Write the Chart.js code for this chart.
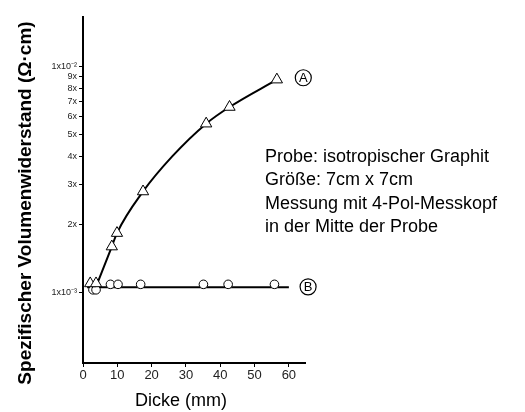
<!DOCTYPE html>
<html>
<head>
<meta charset="utf-8">
<script src="https://cdn.jsdelivr.net/npm/chart.js@4"></script>
<style>
  body { margin: 0; background: #fff; }
</style>
</head>
<body>
<canvas id="chart" width="525" height="412"></canvas>
<script>
// Probe A (triangles) and B (circles): Dicke in mm, Widerstand in Ohm*cm
const dickeA = [2.1, 3.8, 8.4, 9.9, 17.5, 35.9, 42.7, 56.5];
const rhoA = [1.10e-3, 1.10e-3, 1.60e-3, 1.835e-3, 2.80e-3, 5.58e-3, 6.61e-3, 8.73e-3];
const dickeB = [2.9, 3.8, 8.0, 10.2, 16.8, 35.1, 42.3, 55.8];
const rhoB = [1.031e-3, 1.031e-3, 1.09e-3, 1.09e-3, 1.09e-3, 1.09e-3, 1.09e-3, 1.09e-3];

// hand-drawn fit curves
const fitAx = [3.8, 8.4, 9.9, 17.5, 26, 35.9, 42.7, 56.5];
const fitAy = [1.066e-3, 1.60e-3, 1.835e-3, 2.80e-3, 4.0e-3, 5.58e-3, 6.61e-3, 8.73e-3];
const fitBx = [1.2, 60];
const fitBy = [1.057e-3, 1.057e-3];

const xTicks = [0, 10, 20, 30, 40, 50, 60];
const yTicks = [0.001, 0.002, 0.003, 0.004, 0.005, 0.006, 0.007, 0.008, 0.009, 0.01];
const yTickLabels = ['1x10⁻³', '2x', '3x', '4x', '5x', '6x', '7x', '8x', '9x', '1x10⁻²'];

const notes = ['Probe: isotropischer Graphit', 'Größe: 7cm x 7cm', 'Messung mit 4-Pol-Messkopf', 'in der Mitte der Probe'];
const callouts = [
  { text: 'A', x: 64.2, y: 8.9e-3 },
  { text: 'B', x: 65.6, y: 1.063e-3 }
];

const FONT = '"Liberation Sans", Arial, Helvetica, sans-serif';

const pts = (xs, ys) => xs.map((x, i) => ({ x: x, y: ys[i] }));

const extras = {
  id: 'extras',
  afterDraw(chart) {
    const ctx = chart.ctx;
    const xs = chart.scales.x, ys = chart.scales.y;
    ctx.save();
    ctx.fillStyle = '#000';

    // y title
    ctx.save();
    ctx.translate(26, 203);
    ctx.rotate(-Math.PI / 2);
    ctx.font = 'bold 19px ' + FONT;
    ctx.textAlign = 'center';
    ctx.textBaseline = 'middle';
    ctx.fillText('Spezifischer Volumenwiderstand (Ω·cm)', 0, 0);
    ctx.restore();

    // x title
    ctx.font = '18px ' + FONT;
    ctx.textAlign = 'center';
    ctx.textBaseline = 'alphabetic';
    ctx.fillText('Dicke (mm)', 181, 406);

    // notes
    ctx.font = '18px ' + FONT;
    ctx.textAlign = 'left';
    notes.forEach((t, i) => ctx.fillText(t, 265, 162 + i * 23.4));

    // circled series labels
    ctx.lineWidth = 1.2;
    ctx.strokeStyle = '#000';
    callouts.forEach(c => {
      const px = xs.getPixelForValue(c.x), py = ys.getPixelForValue(c.y);
      ctx.beginPath();
      ctx.arc(px, py, 8, 0, Math.PI * 2);
      ctx.stroke();
      ctx.font = '13px ' + FONT;
      ctx.textAlign = 'center';
      ctx.textBaseline = 'middle';
      ctx.fillText(c.text, px, py + 0.5);
    });
    ctx.restore();
  }
};

new Chart(document.getElementById('chart'), {
  type: 'scatter',
  data: {
    datasets: [
      {
        label: 'Fit A',
        data: pts(fitAx, fitAy),
        showLine: true,
        borderColor: '#000',
        borderWidth: 2,
        pointRadius: 0,
        cubicInterpolationMode: 'monotone',
        order: 3
      },
      {
        label: 'Fit B',
        data: pts(fitBx, fitBy),
        showLine: true,
        borderColor: '#000',
        borderWidth: 2,
        pointRadius: 0,
        order: 3
      },
      {
        label: 'A',
        data: pts(dickeA, rhoA),
        pointStyle: 'triangle',
        pointRadius: 6.5,
        backgroundColor: '#fff',
        borderColor: '#000',
        borderWidth: 1,
        order: 1
      },
      {
        label: 'B',
        data: pts(dickeB, rhoB),
        pointStyle: 'circle',
        pointRadius: 4.3,
        backgroundColor: '#fff',
        borderColor: '#000',
        borderWidth: 1,
        order: 1
      }
    ]
  },
  options: {
    responsive: false,
    animation: false,
    devicePixelRatio: 1,
    layout: { padding: { top: 17, right: 220, left: 0, bottom: 0 } },
    plugins: { legend: { display: false }, tooltip: { enabled: false } },
    scales: {
      x: {
        type: 'linear',
        min: 0,
        max: 64.7,
        afterFit: s => { s.height = 49; },
        afterBuildTicks: s => { s.ticks = xTicks.map(v => ({ value: v })); },
        grid: { drawOnChartArea: false, color: '#000', tickLength: 4 },
        border: { color: '#000', width: 2 },
        ticks: { color: '#222', font: { family: FONT, size: 13 }, padding: 1, maxRotation: 0 }
      },
      y: {
        type: 'logarithmic',
        min: 4.9e-4,
        max: 1.65e-2,
        afterFit: s => { s.width = 83; },
        afterBuildTicks: s => { s.ticks = yTicks.map(v => ({ value: v })); },
        grid: { drawOnChartArea: false, color: '#000', tickLength: 4 },
        border: { color: '#000', width: 2 },
        ticks: {
          color: '#222',
          font: { family: FONT, size: 9 },
          padding: 2,
          callback: (v, i) => yTickLabels[i]
        }
      }
    }
  },
  plugins: [extras]
});
</script>
</body>
</html>
